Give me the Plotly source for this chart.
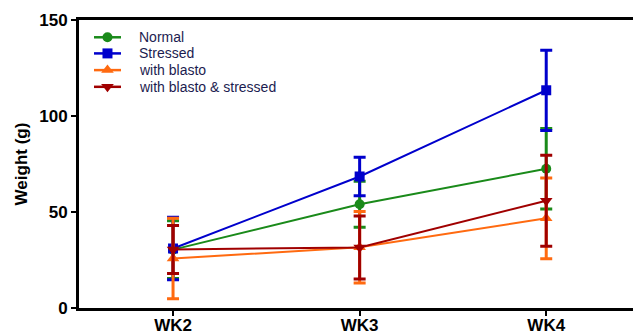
import plotly.graph_objects as go

weeks = ["WK2", "WK3", "WK4"]
series = ["Normal", "Stressed", "with blasto", "with blasto & stressed"]
normal = [30.4, 54.0, 72.5]
normal_err = [15.0, 12.0, 21.0]
stressed = [31.0, 68.5, 113.4]
stressed_err = [16.3, 10.0, 20.9]
blasto = [25.8, 31.6, 46.7]
blasto_err = [21.0, 18.6, 21.0]
blasto_stressed = [30.5, 31.5, 55.9]
blasto_stressed_err = [12.5, 16.4, 23.7]
y_ticks = [0, 50, 100, 150]

values = [normal, stressed, blasto, blasto_stressed]
errs = [normal_err, stressed_err, blasto_err, blasto_stressed_err]
colors = ["#1a8a1a", "#0000cc", "#ff6a10", "#a00000"]
symbols = ["circle", "square", "triangle-up", "triangle-down"]
msizes = [10, 10, 11, 11]

fig = go.Figure()
for name, v, e, c, s, ms in zip(series, values, errs, colors, symbols, msizes):
    fig.add_trace(go.Scatter(
        x=list(range(len(weeks))), y=v, name=name, mode="lines+markers",
        line=dict(color=c, width=2),
        marker=dict(symbol=s, size=ms, color=c),
        error_y=dict(type="data", array=e, color=c, thickness=3, width=6),
        showlegend=False,
    ))

# manual legend (overlay axes in plot-area fractions)
leg_y = [0.940, 0.884, 0.826, 0.768]
lx0, lx1, lxm, ltx = 0.0271, 0.0758, 0.0514, 0.1047
for name, c, s, ms, yy in zip(series, colors, symbols, msizes, leg_y):
    fig.add_trace(go.Scatter(
        x=[lx0, lxm, lx1], y=[yy, yy, yy], mode="lines", xaxis="x2", yaxis="y2",
        line=dict(color=c, width=2.5), showlegend=False, hoverinfo="skip", cliponaxis=False))
    fig.add_trace(go.Scatter(
        x=[lxm], y=[yy], mode="markers", xaxis="x2", yaxis="y2",
        marker=dict(symbol=s, size=ms, color=c), showlegend=False, hoverinfo="skip",
        cliponaxis=False))
    fig.add_annotation(x=ltx, y=yy, xref="paper", yref="paper", text=name,
                       showarrow=False, xanchor="left", yanchor="middle",
                       font=dict(size=14, color="#1c1c50"))

fig.update_layout(
    width=633, height=334,
    margin=dict(l=79, r=0, t=20, b=26),
    plot_bgcolor="white", paper_bgcolor="white",
    font=dict(family="Liberation Sans, Arial", color="black"),
    showlegend=False,
    xaxis=dict(range=[-0.504, 2.465], tickvals=list(range(len(weeks))), ticktext=weeks,
               showline=True, linecolor="black", linewidth=3, mirror=True,
               ticks="outside", ticklen=5, tickwidth=2, tickcolor="black",
               showgrid=False, zeroline=False, automargin=False,
               ticklabelstandoff=-5,
               tickfont=dict(size=17, weight="bold")),
    yaxis=dict(range=[0, 150], tickvals=y_ticks,
               showline=True, linecolor="black", linewidth=3,
               ticks="outside", ticklen=5, tickwidth=2, tickcolor="black",
               showgrid=False, zeroline=False, automargin=False,
               tickfont=dict(size=17, weight="bold"),
               title=dict(text="Weight (g)", font=dict(size=17, weight="bold"), standoff=8)),
    xaxis2=dict(overlaying="x", range=[0, 1], visible=False, fixedrange=True),
    yaxis2=dict(overlaying="y", range=[0, 1], visible=False, fixedrange=True),
)

fig.write_html("out.html")
